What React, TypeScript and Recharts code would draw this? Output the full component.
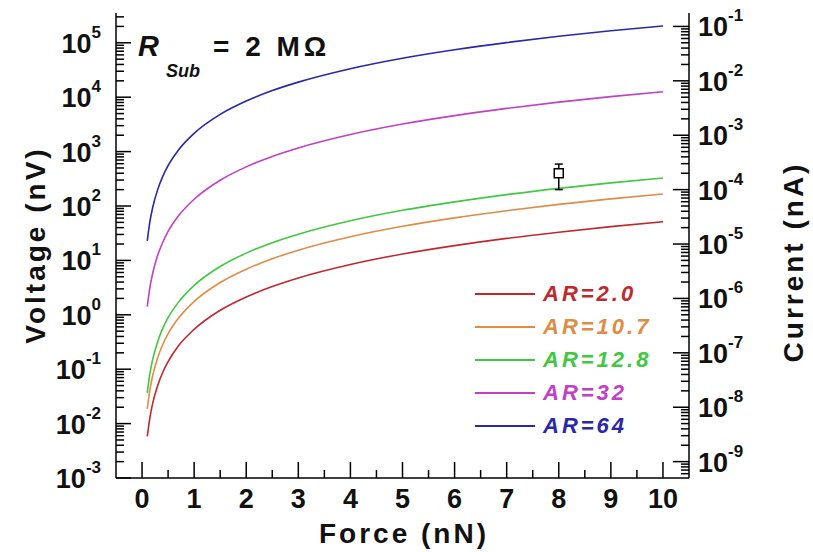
import React from "react";
import {
  ComposedChart,
  Line,
  Scatter,
  ErrorBar,
  XAxis,
  YAxis,
  Legend,
  Customized,
} from "recharts";

const FONT = "'Liberation Sans', Arial, sans-serif";

// force (nN)
const FORCE = [0.1, 0.15, 0.2, 0.3, 0.4, 0.5, 0.7, 1, 1.5, 2, 2.5, 3, 4, 5, 6, 7, 8, 9, 10];

// voltage (nV) per aspect ratio
const AR_2 = [0.0058, 0.0128, 0.0226, 0.05, 0.089, 0.138, 0.27, 0.54, 1.21, 2.13, 3.3, 4.75, 8.4, 13.1, 18.7, 25.4, 33, 41.7, 51.3];
const AR_10_7 = [0.0186, 0.0415, 0.073, 0.163, 0.288, 0.448, 0.87, 1.76, 3.92, 6.9, 10.7, 15.4, 27.2, 42.3, 60.5, 82, 107, 135, 166];
const AR_12_8 = [0.0367, 0.082, 0.145, 0.321, 0.568, 0.883, 1.71, 3.47, 7.73, 13.6, 21.2, 30.3, 53.6, 83.4, 119, 162, 211, 266, 327];
const AR_32 = [1.41, 3.15, 5.56, 12.4, 21.8, 34, 65.9, 133, 297, 524, 815, 1167, 2060, 3210, 4590, 6220, 8110, 10230, 12590];
const AR_64 = [22.9, 51, 90, 200, 354, 551, 1069, 2163, 4820, 8490, 13210, 18920, 33400, 52000, 74500, 100900, 131500, 166000, 204000];

// measured point with error bar
const MEAS_F = [8];
const MEAS_V = [400];
const MEAS_ERR: [number, number][] = [[200, 190]];

const SERIES = [
  { key: "ar2", name: "AR=2.0", color: "#c0282e", values: AR_2 },
  { key: "ar107", name: "AR=10.7", color: "#e08c44", values: AR_10_7 },
  { key: "ar128", name: "AR=12.8", color: "#40c840", values: AR_12_8 },
  { key: "ar32", name: "AR=32", color: "#c040c8", values: AR_32 },
  { key: "ar64", name: "AR=64", color: "#2828a8", values: AR_64 },
];

const R_SUB = 2e6; // ohm, nV / R -> nA
const V_DOMAIN: [number, number] = [1e-3, 3.53e5];
const I_DOMAIN: [number, number] = [V_DOMAIN[0] / R_SUB, V_DOMAIN[1] / R_SUB];

const X_MAJOR = [0, 1, 2, 3, 4, 5, 6, 7, 8, 9, 10];
const X_MINOR = [0.5, 1.5, 2.5, 3.5, 4.5, 5.5, 6.5, 7.5, 8.5, 9.5];
const X_TICKS = [...X_MAJOR, ...X_MINOR].sort((a, b) => a - b);

const V_DECADES = [1e-3, 1e-2, 1e-1, 1, 10, 100, 1e3, 1e4, 1e5];
const I_DECADES = [1e-10, 1e-9, 1e-8, 1e-7, 1e-6, 1e-5, 1e-4, 1e-3, 1e-2, 1e-1];
const MULT = [1, 2, 3, 4, 5, 6, 7, 8, 9];

function logTicks(decades: number[], domain: [number, number]) {
  const out: number[] = [];
  decades.forEach((d) => MULT.forEach((m) => {
    const v = m * d;
    if (v >= domain[0] * 1.0001 && v <= domain[1]) out.push(v);
  }));
  return out;
}

const V_TICKS = [V_DECADES[0], ...logTicks(V_DECADES, V_DOMAIN)];
const I_TICKS = logTicks(I_DECADES, I_DOMAIN);

const rows = FORCE.map((f, i) => {
  const r: Record<string, number> = { f };
  SERIES.forEach((s) => (r[s.key] = s.values[i]));
  return r;
});

const meas = MEAS_F.map((f, i) => ({ f, v: MEAS_V[i], err: MEAS_ERR[i] }));

function isDecade(v: number) {
  const l = Math.log10(v);
  return Math.abs(l - Math.round(l)) < 1e-6;
}

/* ─── ticks ─────────────────────────────────────────── */

function LeftTick({ x, y, payload }: any) {
  const v = payload.value;
  const major = isDecade(v);
  return (
    <g>
      <line x1={x} x2={x + (major ? 15 : 8)} y1={y} y2={y} stroke="#000" strokeWidth={1.5} />
      {major && (
        <text x={x - 15} y={y + 10} textAnchor="end" fontSize={27} fontWeight="bold" fontFamily={FONT} fill="#111">
          10<tspan dy={-15} fontSize={17}>{Math.round(Math.log10(v))}</tspan>
        </text>
      )}
    </g>
  );
}

function RightTick({ x, y, payload }: any) {
  const v = payload.value;
  const major = isDecade(v);
  return (
    <g>
      <line x1={x} x2={x - (major ? 16 : 8)} y1={y} y2={y} stroke="#000" strokeWidth={1.5} />
      {major && (
        <text x={x + 9} y={y + 10} textAnchor="start" fontSize={27} fontWeight="bold" fontFamily={FONT} fill="#111">
          10<tspan dy={-15} fontSize={17}>{Math.round(Math.log10(v))}</tspan>
        </text>
      )}
    </g>
  );
}

function BottomTick({ x, y, payload }: any) {
  const major = Number.isInteger(payload.value);
  return (
    <g>
      <line x1={x} x2={x} y1={y} y2={y - (major ? 16 : 8)} stroke="#000" strokeWidth={1.5} />
      {major && (
        <text x={x} y={y + 30} textAnchor="middle" fontSize={27} fontWeight="bold" fontFamily={FONT} fill="#111">
          {payload.value}
        </text>
      )}
    </g>
  );
}

function TopTick({ x, y, payload }: any) {
  const major = Number.isInteger(payload.value);
  return <line x1={x} x2={x} y1={y} y2={y + (major ? 15 : 8)} stroke="#000" strokeWidth={1.5} />;
}

/* ─── annotations ───────────────────────────────────── */

function Titles() {
  return (
    <g fontFamily={FONT} fill="#111" fontWeight="bold">
      <text x={138} y={56} fontSize={29} fontStyle="italic">R</text>
      <text x={166} y={77} fontSize={18} fontStyle="italic">Sub</text>
      <text x={213} y={56} fontSize={28} letterSpacing={4}>= 2 MΩ</text>
      <text x={404} y={543} fontSize={28} textAnchor="middle" letterSpacing={3}>Force (nN)</text>
      <text x={35} y={245} fontSize={28} textAnchor="middle" dominantBaseline="central" letterSpacing={3}
        transform="rotate(-90 35 245)">Voltage (nV)</text>
      <text x={793} y={262} fontSize={28} textAnchor="middle" dominantBaseline="central" letterSpacing={3}
        transform="rotate(-90 793 262)">Current (nA)</text>
    </g>
  );
}

function LegendBox() {
  return (
    <div style={{ fontFamily: FONT }}>
      {SERIES.map((s) => (
        <div key={s.key} style={{ display: "flex", alignItems: "center", height: 33 }}>
          <div style={{ width: 60, height: 2, background: s.color, marginRight: 8, flexShrink: 0 }} />
          <div style={{ color: s.color, fontSize: 22, fontStyle: "italic", fontWeight: "bold", letterSpacing: 3, lineHeight: 1 }}>
            {s.name}
          </div>
        </div>
      ))}
    </div>
  );
}

function MeasShape({ cx, cy }: any) {
  return <rect x={cx - 4.5} y={cy - 4.5} width={9} height={9} fill="#fff" stroke="#000" strokeWidth={1.5} />;
}

export default function App() {
  return (
    <div style={{ position: "absolute", left: 0, top: 0, width: 813, height: 552, background: "#fff" }}>
      <ComposedChart width={813} height={552} data={rows} margin={{ top: 13, right: 0, bottom: 0, left: 0 }}>
        <XAxis xAxisId="b" dataKey="f" type="number" domain={[-0.5, 10.5]} ticks={X_TICKS} interval={0}
          height={74} tickSize={0} tickMargin={0} allowDataOverflow
          axisLine={{ stroke: "#000", strokeWidth: 1.5 }} tickLine={false} tick={<BottomTick />} />
        <XAxis xAxisId="t" orientation="top" dataKey="f" type="number" domain={[-0.5, 10.5]} ticks={X_TICKS} interval={0}
          height={0} tickSize={0} tickMargin={0} allowDataOverflow
          axisLine={{ stroke: "#000", strokeWidth: 1.5 }} tickLine={false} tick={<TopTick />} />
        <YAxis yAxisId="v" scale="log" type="number" domain={V_DOMAIN} ticks={V_TICKS} interval={0}
          width={116} tickSize={0} tickMargin={0} allowDataOverflow
          axisLine={{ stroke: "#000", strokeWidth: 1.5 }} tickLine={false} tick={<LeftTick />} />
        <YAxis yAxisId="i" orientation="right" scale="log" type="number" domain={I_DOMAIN} ticks={I_TICKS} interval={0}
          width={124} tickSize={0} tickMargin={0} allowDataOverflow
          axisLine={{ stroke: "#000", strokeWidth: 1.5 }} tickLine={false} tick={<RightTick />} />

        {SERIES.map((s) => (
          <Line key={s.key} xAxisId="b" yAxisId="v" dataKey={s.key} name={s.name} type="monotone"
            stroke={s.color} strokeWidth={1.6} dot={false} isAnimationActive={false} />
        ))}

        <Scatter xAxisId="b" yAxisId="v" data={meas} dataKey="v" shape={<MeasShape />} isAnimationActive={false}>
          <ErrorBar dataKey="err" direction="y" width={4} stroke="#000" strokeWidth={1.5} isAnimationActive={false} />
        </Scatter>

        <Legend layout="vertical" align="center" verticalAlign="middle"
          wrapperStyle={{ left: 475, top: 277, width: 210 }} content={() => <LegendBox />} />
        <Customized component={Titles} />
      </ComposedChart>
    </div>
  );
}
